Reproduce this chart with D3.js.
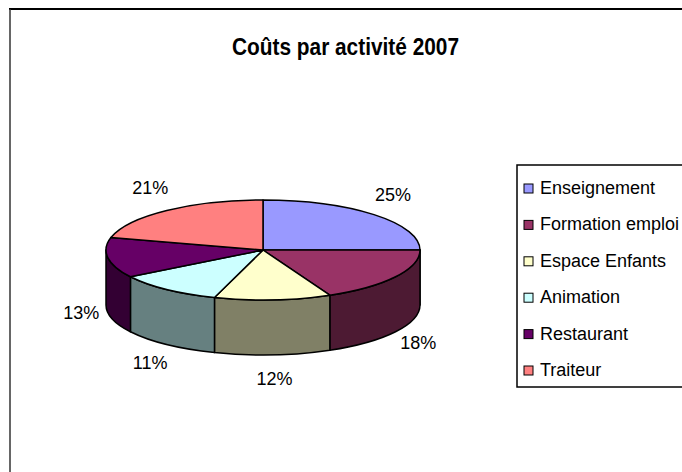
<!DOCTYPE html>
<html>
<head>
<meta charset="utf-8">
<script src="https://cdn.jsdelivr.net/npm/d3@7"></script>
<style>
  body { margin: 0; background: #fff; }
  svg { display: block; font-family: "Liberation Sans", Arial, sans-serif; }
</style>
</head>
<body>
<div id="chart"></div>
<script>
const categories = ["Enseignement", "Formation emploi", "Espace Enfants", "Animation", "Restaurant", "Traiteur"];
const values = [25, 18, 12, 11, 13, 21];
const colors = ["#9999ff", "#993366", "#ffffcc", "#ccffff", "#660066", "#ff8080"];

const W = 682, H = 472;
const cx = 263, cy = 250, rx = 157, ry = 50, depth = 55;

const svg = d3.select("#chart").append("svg")
  .attr("width", W)
  .attr("height", H);

// chart frame
svg.append("line").attr("x1", 9).attr("x2", W).attr("y1", 9).attr("y2", 9)
  .attr("stroke", "#000").attr("stroke-width", 2);
svg.append("line").attr("x1", 10).attr("x2", 10).attr("y1", 9).attr("y2", H)
  .attr("stroke", "#333").attr("stroke-width", 1.5);

// title
svg.append("text")
  .attr("x", 345.5)
  .attr("y", 55)
  .attr("text-anchor", "middle")
  .attr("font-size", 23)
  .attr("font-weight", "bold")
  .attr("textLength", 227)
  .attr("lengthAdjust", "spacingAndGlyphs")
  .text("Coûts par activité 2007");

const color = d3.scaleOrdinal().domain(categories).range(colors);
const total = d3.sum(values);
const data = categories.map((c, i) => ({ name: c, value: values[i] }));
const arcs = d3.pie().value(d => d.value).sort(null)(data);

const pt = (a, dy = 0) => [cx + rx * Math.sin(a), cy - ry * Math.cos(a) + dy];
const fmt = p => p.map(v => v.toFixed(2)).join(",");

// side walls (front half only)
const g = svg.append("g");
arcs.forEach(d => {
  const s0 = Math.max(d.startAngle, Math.PI / 2);
  const s1 = Math.min(d.endAngle, 3 * Math.PI / 2);
  if (s1 <= s0) return;
  const large = s1 - s0 > Math.PI ? 1 : 0;
  const path = `M${fmt(pt(s0))} A${rx},${ry} 0 ${large} 1 ${fmt(pt(s1))}` +
    ` L${fmt(pt(s1, depth))} A${rx},${ry} 0 ${large} 0 ${fmt(pt(s0, depth))} Z`;
  const c = d3.rgb(color(d.data.name));
  g.append("path")
    .attr("d", path)
    .attr("fill", d3.rgb(c.r * 0.5, c.g * 0.5, c.b * 0.5))
    .attr("stroke", "#000")
    .attr("stroke-width", 1.5)
    .attr("stroke-linejoin", "round");
});

// top faces
arcs.forEach(d => {
  const large = d.endAngle - d.startAngle > Math.PI ? 1 : 0;
  const path = `M${cx},${cy} L${fmt(pt(d.startAngle))} A${rx},${ry} 0 ${large} 1 ${fmt(pt(d.endAngle))} Z`;
  g.append("path")
    .attr("d", path)
    .attr("fill", color(d.data.name))
    .attr("stroke", "#000")
    .attr("stroke-width", 1.5)
    .attr("stroke-linejoin", "round");
});

// percentage labels
const pct = d3.format(".0%");
arcs.forEach(d => {
  const a = (d.startAngle + d.endAngle) / 2;
  const x = cx + (rx + 27) * Math.sin(a);
  let y = cy - (ry + 28) * Math.cos(a);
  if (Math.cos(a) < 0) y += depth - 4;
  svg.append("text")
    .attr("x", x)
    .attr("y", y)
    .attr("text-anchor", "middle")
    .attr("dominant-baseline", "central")
    .attr("font-size", 18)
    .text(pct(d.value / total));
});

// legend
const lg = svg.append("g");
lg.append("rect")
  .attr("x", 517).attr("y", 165)
  .attr("width", 200).attr("height", 222)
  .attr("fill", "#fff")
  .attr("stroke", "#000")
  .attr("stroke-width", 1.5);

const rowY = d3.scalePoint().domain(categories).range([188, 370]);
categories.forEach(c => {
  lg.append("rect")
    .attr("x", 524).attr("y", rowY(c) - 4)
    .attr("width", 9).attr("height", 9)
    .attr("fill", color(c))
    .attr("stroke", "#000")
    .attr("stroke-width", 1);
  lg.append("text")
    .attr("x", 540)
    .attr("y", rowY(c) + 6)
    .attr("font-size", 18)
    .text(c);
});
</script>
</body>
</html>
